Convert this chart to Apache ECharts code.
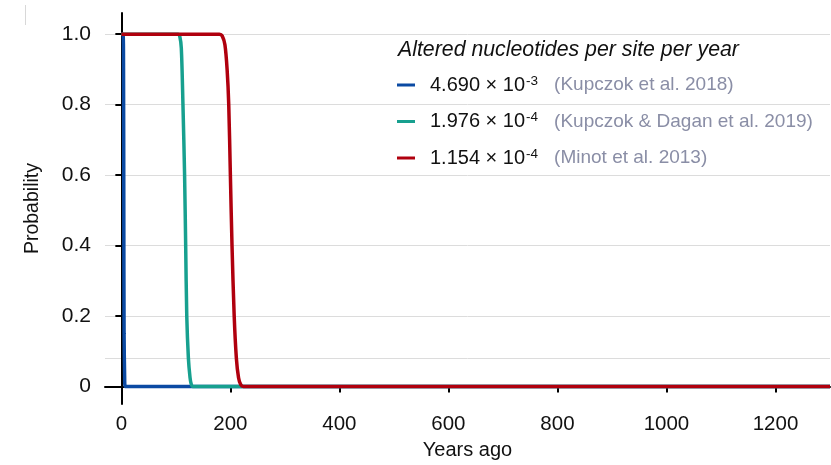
<!DOCTYPE html>
<html>
<head>
<meta charset="utf-8">
<script src="https://cdn.jsdelivr.net/npm/echarts@6/dist/echarts.min.js"></script>
<style>
  html, body { margin: 0; padding: 0; background: #fff; }
  #chart { width: 831px; height: 465px; }
</style>
</head>
<body>
<div id="chart"></div>
<script>
// tick positions
const xTicks = [0, 200, 400, 600, 800, 1000, 1200]
const yTicks = [0, 0.2, 0.4, 0.6, 0.8, 1.0]
const gridLines = [0.08, 0.2, 0.4, 0.6, 0.8, 1.0]

// legend text
const seriesNames = ['rate1', 'rate2', 'rate3']
const rates = ['4.690', '1.976', '1.154']
const exponents = ['-3', '-4', '-4']
const refs = ['(Kupczok et al. 2018)', '(Kupczok & Dagan et al. 2019)', '(Minot et al. 2013)']

// curves: [years ago, probability]
const blueCurve = [[0, 1], [3, 1], [4, 0.9], [4.5, 0.5], [5, 0.15], [6, 0.03], [7, 0], [1300, 0]]
const tealCurve = [[0, 1], [104, 1], [107, 0.995], [110, 0.96], [113, 0.8], [116, 0.6], [118, 0.4],
                   [120, 0.2], [123, 0.08], [126, 0.025], [128, 0.008], [131, 0], [1300, 0]]
const redCurve = [[0, 1], [180, 1], [185, 0.995], [190, 0.97], [194, 0.9], [197, 0.8], [200, 0.6],
                  [203, 0.4], [207, 0.2], [211, 0.08], [215, 0.025], [219, 0.005], [224, 0], [1300, 0]]

const colors = ['#0b4aa3', '#17a08f', '#b0000e']

let chart = echarts.init(document.getElementById('chart'))

const font = 'Liberation Sans, Arial, Helvetica, sans-serif'

function curveSeries(name, data, color, z){
    return {
        name: name,
        type: 'line',
        data: data,
        showSymbol: false,
        smooth: 0.3,
        z: z,
        lineStyle: { color: color, width: 3.5 },
        itemStyle: { color: color }
    }
}

let option = {
    animation: false,
    textStyle: { fontFamily: font },
    title: {
        text: 'Altered nucleotides per site per year',
        left: 398,
        top: 40,
        padding: 0,
        textStyle: { fontFamily: font, fontSize: 21.3, fontStyle: 'italic', fontWeight: 'normal', color: '#111' }
    },
    legend: {
        orient: 'vertical',
        left: 397,
        top: 74,
        padding: 0,
        itemGap: 14.5,
        itemWidth: 18,
        itemHeight: 3,
        icon: 'rect',
        data: seriesNames,
        formatter: function(name){
            let i = seriesNames.indexOf(name)
            return '{v|' + rates[i] + ' × 10}{sup|' + exponents[i] + '}{ref|' + refs[i] + '}'
        },
        textStyle: {
            fontFamily: font,
            lineHeight: 22,
            rich: {
                v: { fontFamily: font, fontSize: 20, color: '#111', padding: [0, 0, 0, 10], lineHeight: 22 },
                sup: { fontFamily: font, fontSize: 13.5, color: '#111', verticalAlign: 'top', padding: [0, 16, 0, 1], lineHeight: 22 },
                ref: { fontFamily: font, fontSize: 19, color: '#8a8ea6', lineHeight: 22 }
            }
        }
    },
    grid: { left: 105, right: 1, top: 13, bottom: 60, containLabel: false },
    xAxis: {
        type: 'value',
        min: -30,
        max: 1300,
        name: 'Years ago',
        nameLocation: 'middle',
        nameGap: 33,
        nameTextStyle: { fontFamily: font, fontSize: 20, color: '#111' },
        axisLine: { show: true, lineStyle: { color: '#000', width: 2 } },
        axisTick: { show: true, length: 6, lineStyle: { color: '#000', width: 2 }, customValues: xTicks },
        axisLabel: {
            fontFamily: font, fontSize: 20.5, color: '#111', margin: 10, customValues: xTicks,
            formatter: function(v){ return String(v) }
        },
        splitLine: { show: false }
    },
    yAxis: {
        type: 'value',
        min: -0.05,
        max: 1.06,
        name: 'Probability',
        nameLocation: 'middle',
        nameGap: 62,
        nameTextStyle: { fontFamily: font, fontSize: 19.5, color: '#111' },
        axisLine: { show: true, lineStyle: { color: '#000', width: 2 } },
        axisTick: { show: true, length: 6, lineStyle: { color: '#000', width: 2 }, customValues: yTicks },
        axisLabel: {
            fontFamily: font, fontSize: 21, color: '#111', margin: 14, customValues: yTicks,
            formatter: function(v){ return v === 0 ? '0' : v.toFixed(1) }
        },
        splitLine: { show: false }
    },
    graphic: [
        { type: 'line', shape: { x1: 25.5, y1: 5, x2: 25.5, y2: 25 }, style: { stroke: '#d8d8d8', lineWidth: 1 } }
    ],
    series: [
        {
            name: 'grid',
            type: 'line',
            data: [],
            z: 0,
            silent: true,
            markLine: {
                z: 0,
                silent: true,
                symbol: 'none',
                label: { show: false },
                lineStyle: { color: '#dcdcdc', width: 1, type: 'solid' },
                data: gridLines.map(v => ({ yAxis: v }))
            }
        },
        curveSeries(seriesNames[0], blueCurve, colors[0], 2),
        curveSeries(seriesNames[1], tealCurve, colors[1], 3),
        curveSeries(seriesNames[2], redCurve, colors[2], 4)
    ]
}

chart.setOption(option)
</script>
</body>
</html>
